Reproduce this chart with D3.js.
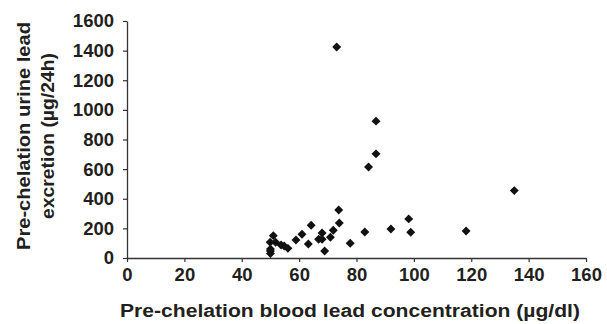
<!DOCTYPE html>
<html lang="en">
<head>
<meta charset="UTF-8">
<title>Blood lead vs urine lead</title>
<script src="https://d3js.org/d3.v7.min.js"></script>
<style>
  body { margin: 0; background: #fff; }
  text { font-family: "Liberation Sans", Arial, sans-serif; font-weight: bold; fill: #231f20; }
</style>
</head>
<body>
<div id="wrapper"></div>
<script>
// blood lead (ug/dl)
const bloodLead = [50, 50, 50, 49.9, 51, 51.8, 53.7, 54.8, 56.1, 58.9, 61, 63.2, 64.2, 66.8, 68, 68, 68.9,
  70.9, 71.9, 73.8, 74, 77.8, 82.9, 73.1, 86.8, 86.8, 84.2, 92, 98.2, 98.9, 118.2, 135];
// urine lead (ug/24h)
const urineLead = [30, 48, 60, 106, 151, 106, 88, 81, 65, 122, 160, 95, 221, 126, 169, 126, 47,
  140, 187, 324, 236, 99, 176, 1424, 924, 703, 615, 196, 264, 174, 182, 455];

const xTicks = [0, 20, 40, 60, 80, 100, 120, 140, 160];
const yTicks = [0, 200, 400, 600, 800, 1000, 1200, 1400, 1600];

const W = 607, H = 324;
const svg = d3.select("#wrapper").append("svg")
  .attr("width", W).attr("height", H);

const x = d3.scaleLinear().domain([0, 160]).range([127, 586]);
const y = d3.scaleLinear().domain([0, 1600]).range([258, 21]);

// axes
const gx = svg.append("g")
  .attr("transform", `translate(0,${y(0)})`)
  .call(d3.axisBottom(x).tickValues(xTicks).tickFormat(d3.format("d"))
    .tickSize(4).tickPadding(6).tickSizeOuter(0));
const gy = svg.append("g")
  .attr("transform", `translate(${x(0)},0)`)
  .call(d3.axisLeft(y).tickValues(yTicks).tickFormat(d3.format("d"))
    .tickSize(4).tickPadding(9).tickSizeOuter(0));

[gx, gy].forEach(g => {
  g.select(".domain").attr("stroke", "#333").attr("stroke-width", 1.3);
  g.selectAll(".tick line").attr("stroke", "#333").attr("stroke-width", 1.2);
  g.selectAll(".tick text").attr("font-size", 18.5).attr("fill", "#231f20")
    .style("font-family", "'Liberation Sans', Arial, sans-serif").style("font-weight", "bold");
});

// points
const pts = bloodLead.map((b, i) => ({b: b, u: urineLead[i]}));
svg.append("g").selectAll("path")
  .data(pts)
  .join("path")
    .attr("d", d3.symbol(d3.symbolSquare, 40))
    .attr("transform", d => `translate(${x(d.b)},${y(d.u)}) rotate(45)`)
    .attr("fill", "#111");

// axis titles
svg.append("text")
  .attr("x", 350)
  .attr("y", 317)
  .attr("text-anchor", "middle")
  .attr("font-size", 18)
  .attr("textLength", 460)
  .attr("lengthAdjust", "spacingAndGlyphs")
  .text("Pre-chelation blood lead concentration (\u00b5g/dl)");

const yt = svg.append("text")
  .attr("transform", "translate(0,136) rotate(-90)")
  .attr("text-anchor", "middle")
  .attr("font-size", 18);
yt.append("tspan").attr("x", 0).attr("y", 30)
  .attr("textLength", 228).attr("lengthAdjust", "spacingAndGlyphs")
  .text("Pre-chelation urine lead");
yt.append("tspan").attr("x", 0).attr("y", 54)
  .attr("textLength", 166).attr("lengthAdjust", "spacingAndGlyphs")
  .text("excretion (\u00b5g/24h)");
</script>
</body>
</html>
